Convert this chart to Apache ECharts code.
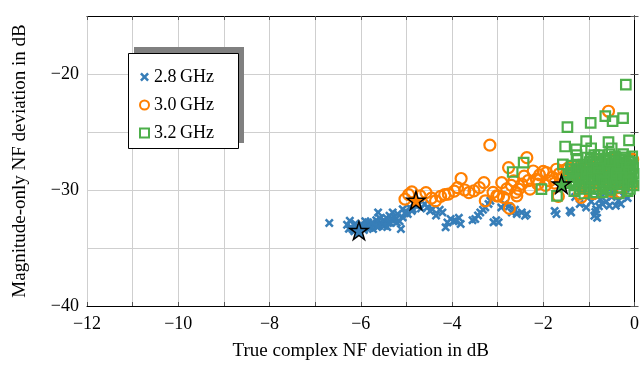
<!DOCTYPE html>
<html>
<head>
<meta charset="utf-8">
<script src="https://cdn.jsdelivr.net/npm/echarts@6/dist/echarts.min.js"></script>
<style>
  html, body { margin: 0; padding: 0; background: #fff; }
  #chart { width: 642px; height: 366px; }
</style>
</head>
<body>
<div id="chart"></div>
<script>
// Axis tick labels
const xLabelValues = [-12, -10, -8, -6, -4, -2, 0];
const yLabelValues = [-40, -30, -20];

// Series names
const seriesNames = ['2.8\u2009GHz', '3.0\u2009GHz', '3.2\u2009GHz'];

// [true complex NF deviation, magnitude-only NF deviation] in dB
const data28 = [
  [-6.69,-32.85],
  [-6.30,-33.00],[-6.24,-32.65],[-6.20,-33.25],[-6.17,-33.40],[-6.12,-32.90],[-6.08,-33.10],
  [-6.02,-33.30],[-5.99,-32.93],[-5.95,-33.15],[-5.90,-32.70],[-5.86,-33.00],[-5.84,-32.79],
  [-5.80,-33.25],[-5.77,-33.22],[-5.73,-33.36],[-5.70,-32.95],[-5.66,-32.60],[-5.62,-31.93],
  [-5.60,-33.08],[-5.56,-32.80],[-5.52,-33.00],[-5.48,-33.08],[-5.48,-32.65],[-5.44,-32.40],
  [-5.40,-32.85],[-5.37,-32.22],[-5.33,-32.55],[-5.30,-31.93],[-5.27,-32.30],[-5.23,-32.50],
  [-5.19,-32.07],[-5.15,-32.70],[-5.12,-33.36],[-5.08,-32.36],[-5.08,-31.65],[-5.03,-32.00],
  [-4.97,-32.07],[-4.93,-31.50],[-4.88,-31.80],[-4.86,-31.65],[-4.80,-31.30],[-4.75,-31.36],
  [-4.68,-31.60],[-4.60,-31.20],[-4.54,-31.50],[-4.48,-31.80],[-4.43,-31.65],[-4.35,-32.20],
  [-4.27,-31.70],[-4.21,-31.93],[-4.14,-33.22],[-4.10,-32.80],[-4.03,-32.50],[-3.97,-32.70],
  [-3.92,-32.65],[-3.85,-32.40],[-3.81,-32.93],
  [-6.26,-33.35],[-6.14,-33.55],[-5.93,-33.45],[-5.76,-32.85],[-5.64,-33.20],[-5.58,-32.45],
  [-5.42,-33.20],[-5.35,-32.85],[-5.21,-32.80],[-5.00,-31.85],
  [-3.55,-32.60],[-3.49,-32.50],[-3.43,-32.20],[-3.38,-31.93],[-3.32,-31.70],[-3.27,-31.50],
  [-3.20,-31.20],[-3.16,-30.93],[-3.09,-32.79],[-3.03,-32.60],[-2.98,-32.79],[-2.92,-31.50],
  [-2.85,-31.20],[-2.75,-31.40],[-2.69,-31.93],[-2.62,-31.70],[-2.58,-32.07],[-2.47,-31.93],
  [-2.40,-32.22],[-2.36,-32.07],
  [-1.75,-31.80],[-1.71,-32.07],[-1.42,-31.79],[-1.39,-31.93],[-1.20,-31.20],[-1.06,-31.50],
  [-0.95,-31.00],[-0.88,-32.22],[-0.86,-31.90],[-0.84,-31.65],[-0.82,-32.40],[-0.78,-31.40],
  [-0.75,-30.80],[-0.70,-31.22],[-0.62,-31.00],[-0.55,-31.36],[-0.50,-30.60],[-0.48,-30.22],
  [-0.41,-31.36],[-0.35,-30.90],[-0.30,-31.20],[-0.80,-30.50],[-1.00,-30.40],[-0.65,-30.30],
  [-0.25,-30.50],[-0.15,-30.70],[-1.30,-30.60],[-1.10,-30.00],[-0.45,-29.80],[-0.20,-29.90]
];

const data30 = [
  [-5.03,-30.79],[-4.95,-30.40],[-4.88,-30.16],[-4.70,-30.50],[-4.57,-30.22],[-4.45,-30.70],
  [-4.36,-30.93],[-4.25,-30.55],[-4.16,-30.40],[-4.08,-30.36],[-3.95,-30.10],[-3.88,-29.79],
  [-3.80,-29.01],[-3.72,-30.00],[-3.63,-30.22],[-3.52,-30.08],[-3.40,-29.80],[-3.30,-29.36],
  [-3.27,-30.93],[-3.17,-26.13],[-3.10,-30.20],[-3.02,-30.50],[-2.98,-30.50],[-2.91,-29.36],
  [-2.87,-30.64],[-2.80,-29.90],[-2.76,-28.07],[-2.74,-31.59],[-2.70,-29.60],[-2.65,-29.22],
  [-2.60,-30.20],[-2.58,-30.50],[-2.54,-29.93],[-2.47,-29.50],[-2.42,-28.80],[-2.36,-27.21],
  [-2.33,-29.20],[-2.29,-29.93],[-2.22,-28.36],[-2.15,-29.07],[-2.08,-28.70],[-2.00,-28.40],
  [-1.93,-28.50],[-1.86,-29.22],[-1.80,-28.90],[-1.71,-28.21],[-1.67,-30.55],[-1.65,-28.60],
  [-1.55,-28.30],[-1.50,-29.00],[-1.45,-28.10],[-1.40,-28.70],[-1.35,-29.30],[-1.30,-28.00],
  [-1.25,-28.50],[-1.20,-29.50],[-1.20,-30.36],[-1.17,-30.64],[-1.10,-28.20],[-1.05,-29.80],
  [-1.00,-27.90],[-0.95,-28.80],[-0.90,-29.20],[-0.85,-28.40],[-0.80,-27.60],[-0.75,-29.60],
  [-0.70,-28.10],[-0.65,-28.90],[-0.60,-27.80],[-0.57,-23.21],[-0.55,-29.40],[-0.50,-28.50],
  [-0.45,-27.40],[-0.40,-28.80],[-0.35,-29.80],[-0.30,-28.20],[-0.25,-27.70],[-0.20,-29.10],
  [-0.15,-28.93],[-0.10,-27.50],[-0.08,-28.40],[-0.05,-29.50],[-0.04,-27.36],[-0.50,-30.10],
  [-0.90,-30.30],[-0.30,-30.20],[-1.95,-29.60],[-1.75,-29.40],[-1.60,-29.00],[-2.12,-29.50]
];

const data32 = [
  [-0.19,-20.92],[-1.47,-24.58],[-0.96,-24.21],[-0.64,-23.64],[-0.48,-24.07],[-0.25,-23.80],
  [-1.52,-26.25],[-1.06,-25.79],[-0.57,-25.87],[-0.12,-25.72],[-1.28,-26.50],[-0.95,-26.40],
  [-0.50,-26.40],[-2.43,-27.64],[-2.67,-28.45],[-2.04,-29.93],[-1.70,-30.50],[-1.57,-27.79],
  [-1.45,-28.6],[-1.42,-29.4],[-1.38,-27.9],[-1.35,-28.9],[-1.32,-30.1],[-1.28,-28.3],
  [-1.25,-27.4],[-1.22,-29.1],[-1.18,-28.7],[-1.15,-29.7],[-1.12,-27.8],[-1.10,-28.4],
  [-1.07,-29.3],[-1.04,-27.2],[-1.02,-28.9],[-0.99,-29.9],[-0.97,-28.1],[-0.94,-28.6],
  [-0.91,-27.5],[-0.89,-29.4],[-0.86,-28.2],[-0.84,-30.2],[-0.81,-28.8],[-0.79,-27.0],
  [-0.76,-29.1],[-0.74,-28.4],[-0.71,-27.7],[-0.69,-29.6],[-0.66,-28.0],[-0.63,-28.9],
  [-0.61,-27.3],[-0.58,-29.3],[-0.56,-28.5],[-0.53,-30.0],[-0.51,-27.8],[-0.48,-28.7],
  [-0.46,-29.5],[-0.43,-27.1],[-0.41,-28.2],[-0.38,-29.0],[-0.36,-27.6],[-0.33,-28.8],
  [-0.31,-29.8],[-0.28,-28.3],[-0.26,-27.2],[-0.23,-29.2],[-0.21,-28.0],[-0.18,-28.6],
  [-0.16,-29.6],[-0.13,-27.5],[-0.11,-28.9],[-0.08,-28.2],[-0.06,-29.3],[-0.04,-27.9],
  [-0.02,-28.6],[-1.40,-28.2],[-1.20,-29.9],[-0.98,-27.6],[-0.78,-29.9],[-0.60,-28.1],
  [-0.45,-28.4],[-0.30,-27.4],[-0.15,-30.1],[-0.05,-27.1],[-1.30,-29.6],[-0.88,-27.0],
  [-0.68,-28.6],[-0.35,-30.3],[-0.10,-29.9],[-1.50,-29.3],[-1.10,-30.3],[-0.55,-26.9],
  [-0.25,-26.9],[-0.70,-30.2],
  [-1.36,-28.5],[-1.24,-27.9],[-1.16,-28.9],[-1.08,-28.0],[-1.00,-29.3],[-0.92,-28.3],
  [-0.87,-29.7],[-0.83,-27.7],[-0.77,-28.5],[-0.72,-29.0],[-0.65,-27.4],[-0.62,-29.8],
  [-0.57,-28.2],[-0.52,-28.9],[-0.47,-27.5],[-0.42,-29.3],[-0.37,-28.4],[-0.32,-27.9],
  [-0.27,-29.5],[-0.22,-28.7],[-0.17,-27.8],[-0.12,-28.4],[-0.07,-29.0],[-0.03,-28.1],
  [-1.33,-29.2],[-1.19,-28.2],[-1.05,-28.6],[-0.93,-29.0],[-0.80,-28.1],[-0.67,-29.3],
  [-0.54,-27.5],[-0.40,-28.6],[-0.29,-28.9],[-0.14,-29.3],[-0.02,-29.6],[-0.96,-27.3],
  [-0.75,-27.3],[-1.27,-27.0],[-0.20,-27.2],[-0.09,-27.6]
];

// Highlighted point of each band
const stars = [[-6.04,-33.50],[-4.79,-30.90],[-1.60,-29.50]];

const colors = ['#377eb8', '#ff7f00', '#4daf4a'];
const serif = '"Liberation Serif", "Times New Roman", serif';
const crossPath = 'path://M2,0 L5,3 L8,0 L10,2 L7,5 L10,8 L8,10 L5,7 L2,10 L0,8 L3,5 L0,2 Z';
const starPath = 'path://M50,2 L61,36 L97,36 L68,57 L79,92 L50,71 L21,92 L32,57 L3,36 L39,36 Z';

const fmt = (labels) => (v) => labels.indexOf(v) >= 0 ? String(v).replace('-', '\u2212') : '';

const gridLine = { show: true, lineStyle: { color: '#cfcfcf', width: 1 } };

function frameAxis(extra) {
  return Object.assign({
    type: 'value',
    axisLine: { show: true, lineStyle: { color: '#000', width: 1 } },
    axisTick: { show: true, inside: true, length: 4, lineStyle: { color: '#555' } },
    axisLabel: { show: false },
    splitLine: { show: false }
  }, extra);
}

const chart = echarts.init(document.getElementById('chart'), null, { renderer: 'canvas' });

chart.setOption({
  animation: false,
  backgroundColor: '#fff',
  textStyle: { fontFamily: serif },
  grid: { left: 87, right: 4, top: 16, bottom: 59, containLabel: false },
  xAxis: [
    frameAxis({
      min: -12, max: 0, interval: 1, position: 'bottom',
      axisLabel: { show: true, formatter: fmt(xLabelValues), color: '#000', fontSize: 18, fontFamily: serif, margin: 9 },
      splitLine: gridLine,
      name: 'True complex NF deviation in dB', nameLocation: 'middle', nameGap: 36,
      nameTextStyle: { color: '#000', fontSize: 19, fontFamily: serif }
    }),
    frameAxis({ min: -12, max: 0, interval: 1, position: 'top' })
  ],
  yAxis: [
    frameAxis({
      min: -40, max: -15, interval: 5, position: 'left',
      axisLabel: { show: true, formatter: fmt(yLabelValues), color: '#000', fontSize: 18, fontFamily: serif, margin: 8 },
      splitLine: gridLine,
      name: 'Magnitude-only NF deviation in dB', nameLocation: 'middle', nameGap: 57,
      nameTextStyle: { color: '#000', fontSize: 19, fontFamily: serif }
    }),
    frameAxis({ min: -40, max: -15, interval: 5, position: 'right' })
  ],
  legend: {
    orient: 'vertical', left: 134, top: 63, itemWidth: 9, itemHeight: 9, itemGap: 10,
    z: 20,
    textStyle: { fontSize: 18, fontFamily: serif, color: '#000', lineHeight: 18 },
    data: [
      { name: seriesNames[0], icon: crossPath },
      { name: seriesNames[1], icon: 'circle' },
      { name: seriesNames[2], icon: 'rect' }
    ]
  },
  graphic: [
    { type: 'rect', z: 10, shape: { x: 134, y: 47, width: 110, height: 96 }, style: { fill: '#808080' } },
    { type: 'rect', z: 11, shape: { x: 128.5, y: 53.5, width: 110, height: 95 }, style: { fill: '#fff', stroke: '#000', lineWidth: 1 } }
  ],
  series: [
    {
      name: seriesNames[0], type: 'scatter', data: data28, symbol: crossPath, symbolSize: 9,
      itemStyle: { color: colors[0], opacity: 1 }, z: 3
    },
    {
      name: seriesNames[1], type: 'scatter', data: data30, symbol: 'circle', symbolSize: 11,
      itemStyle: { color: 'rgba(0,0,0,0)', borderColor: colors[1], borderWidth: 2.2, opacity: 1 }, z: 4
    },
    {
      name: seriesNames[2], type: 'scatter', data: data32, symbol: 'rect', symbolSize: 9.5,
      itemStyle: { color: 'rgba(0,0,0,0)', borderColor: colors[2], borderWidth: 2.2, opacity: 1 }, z: 5
    },
    {
      name: 'centroids', type: 'scatter', symbol: starPath, symbolSize: 18, z: 6,
      data: stars.map((p, i) => ({ value: p, itemStyle: { color: colors[i] } })),
      itemStyle: { borderColor: '#000', borderWidth: 1.5, opacity: 1 }
    }
  ]
});
</script>
</body>
</html>
